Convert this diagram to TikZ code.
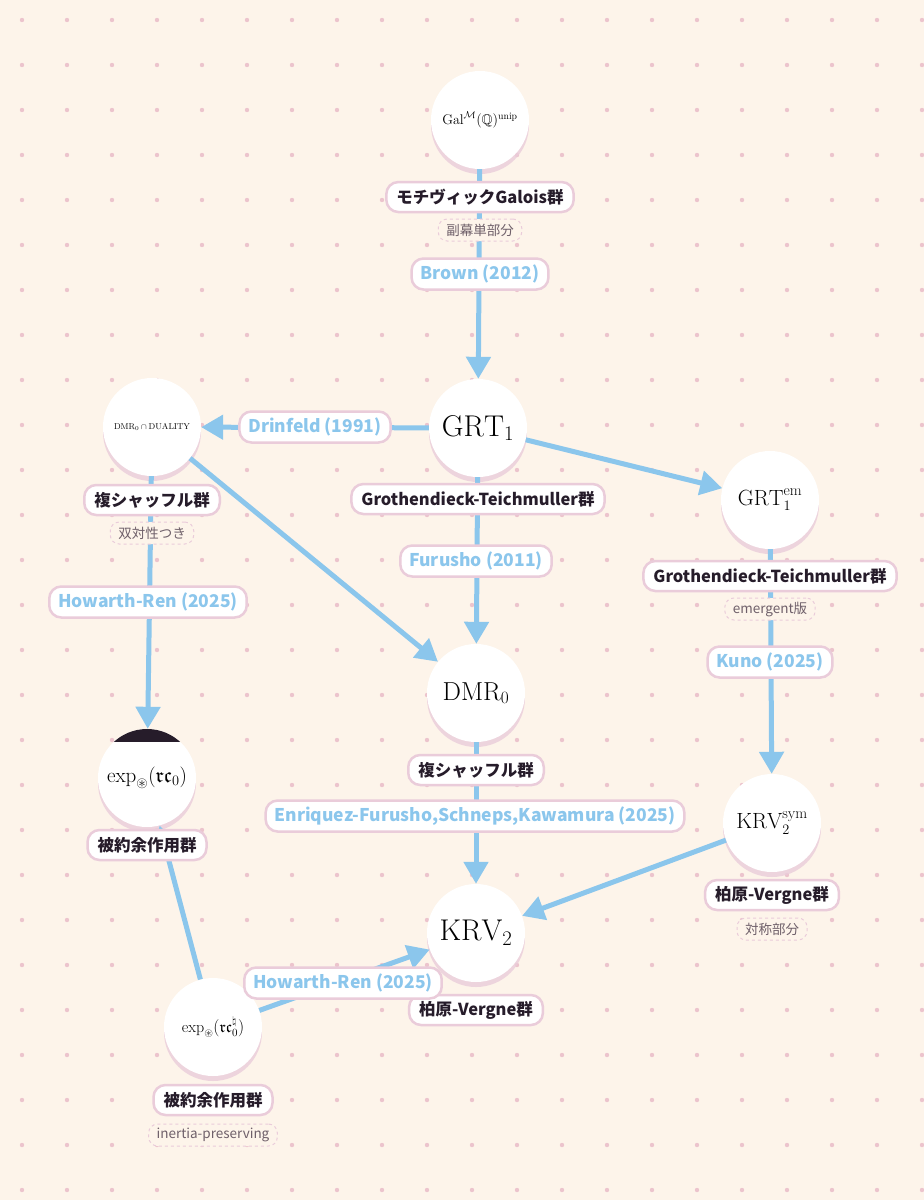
\documentclass[tikz,border=0pt]{standalone}
\usepackage{amsmath,amssymb}
\usepackage{fontspec}
\newfontfamily\jpfont{Noto Sans CJK JP}
\usetikzlibrary{arrows.meta,shadows}
\definecolor{bgCream}{RGB}{253,244,234}
\definecolor{dotPink}{RGB}{236,196,205}
\definecolor{pillPink}{RGB}{234,204,218}
\definecolor{edgeBlue}{RGB}{139,198,236}
\definecolor{inkDark}{RGB}{38,28,42}
\definecolor{subGray}{RGB}{110,95,105}

\tikzset{
  grp/.style={circle, fill=white, minimum size=98pt, inner sep=0pt,
    drop shadow={shadow xshift=0pt, shadow yshift=-5pt, fill=pillPink, opacity=0.8}},
  grpname/.style={rounded corners=12pt, fill=white, draw=pillPink, line width=2.5pt,
    inner xsep=10pt, minimum height=30pt, font=\jpfont\bfseries\fontsize{16.5}{16.5}\selectfont, text=inkDark},
  subnote/.style={rounded corners=9pt, draw=pillPink, dashed, line width=1pt, fill=bgCream,
    inner xsep=8pt, minimum height=22pt, font=\jpfont\fontsize{13.5}{13.5}\selectfont, text=subGray},
  cite/.style={rounded corners=12pt, fill=white, draw=pillPink, line width=2.5pt,
    inner xsep=9pt, minimum height=31pt, font=\jpfont\bfseries\fontsize{17.5}{17.5}\selectfont, text=edgeBlue},
  arrowlink/.style={draw=edgeBlue, line width=5pt, -{Triangle[length=22pt,width=24pt]}}
}

\begin{document}
\begin{tikzpicture}[x=1pt,y=-1pt]
  % background and dot grid
  \fill[bgCream] (0,0) rectangle (924,1200);
  \useasboundingbox (0,0) rectangle (924,1200);
  \foreach \i in {0,...,20} {
    \foreach \j in {0,...,26} {
      \fill[dotPink] (22+45*\i,20+45*\j) circle (2.2pt);
    }
  }

  % groups
  \node[grp] (gal)   at (480,120) {\fontsize{14}{14}\selectfont$\mathrm{Gal}^{\mathcal{M}}(\mathbb{Q})^{\mathrm{unip}}$};
  \node[grp] (grt)   at (478,428) {\fontsize{30}{30}\selectfont$\mathrm{GRT}_1$};
  \node[grp] (dual)  at (152,427) {\fontsize{8.5}{8.5}\selectfont$\mathrm{DMR}_0\cap\mathrm{DUALITY}$};
  \node[grp] (grtem) at (770,500) {\fontsize{22}{22}\selectfont$\mathrm{GRT}_1^{\mathrm{em}}$};
  \node[grp] (dmr)   at (476,693) {\fontsize{26}{26}\selectfont$\mathrm{DMR}_0$};
  \node[grp] (expa)  at (147,778) {\fontsize{21}{21}\selectfont$\exp_{\circledast}(\mathfrak{rc}_0)$};
  \node[grp] (krvs)  at (772,823) {\fontsize{22}{22}\selectfont$\mathrm{KRV}_2^{\mathrm{sym}}$};
  \node[grp] (krv)   at (476,933) {\fontsize{30}{30}\selectfont$\mathrm{KRV}_2$};
  \node[grp] (expb)  at (213,1027) {\fontsize{16}{16}\selectfont$\exp_{\circledast}(\mathfrak{rc}_0^{\natural})$};

  % dark band on top of expa
  \begin{scope}
    \clip (expa) circle (49pt);
    \fill[inkDark] (95,725) rectangle (199,742);
  \end{scope}

  % connectors
  \draw[arrowlink] (gal) -- (grt);
  \draw[arrowlink] (grt) -- (dual);
  \draw[arrowlink] (grt) -- (grtem);
  \draw[arrowlink] (grt) -- (dmr);
  \draw[arrowlink] (dual) -- (dmr);
  \draw[arrowlink] (dual) -- (expa);
  \draw[arrowlink] (grtem) -- (krvs);
  \draw[arrowlink] (dmr) -- (krv);
  \draw[arrowlink] (krvs) -- (krv);
  \draw[arrowlink] (expb) -- (expa);
  \draw[arrowlink] (expb) -- (krv);

  % names
  \node[grpname] (galN)   at (480,197) {モチヴィックGalois群};
  \node[subnote] (galS)   at (480,230) {副幕単部分};
  \node[grpname] (grtN)   at (478,499) {Grothendieck-Teichmuller群};
  \node[grpname] (dualN)  at (152,500) {複シャッフル群};
  \node[subnote] (dualS)  at (152,533) {双対性つき};
  \node[grpname] (grtemN) at (770,576) {Grothendieck-Teichmuller群};
  \node[subnote] (grtemS) at (770,609) {emergent版};
  \node[grpname] (dmrN)   at (476,770) {複シャッフル群};
  \node[grpname] (expaN)  at (147,845) {被約余作用群};
  \node[grpname] (krvsN)  at (772,895) {柏原-Vergne群};
  \node[subnote] (krvsS)  at (772,929) {対称部分};
  \node[grpname] (krvN)   at (476,1010) {柏原-Vergne群};
  \node[grpname] (expbN)  at (213,1100) {被約余作用群};
  \node[subnote] (expbS)  at (213,1135) {inertia-preserving};

  % citations
  \node[cite] (brown) at (480,274) {Brown (2012)};
  \node[cite] (drin)  at (315,427) {Drinfeld (1991)};
  \node[cite] (furu)  at (476,561) {Furusho (2011)};
  \node[cite] (kuno)  at (770,662) {Kuno (2025)};
  \node[cite] (howa)  at (148,602) {Howarth-Ren (2025)};
  \node[cite] (efsk)  at (475,816) {Enriquez-Furusho,Schneps,Kawamura (2025)};
  \node[cite] (howb)  at (343,983) {Howarth-Ren (2025)};
\end{tikzpicture}
\end{document}
